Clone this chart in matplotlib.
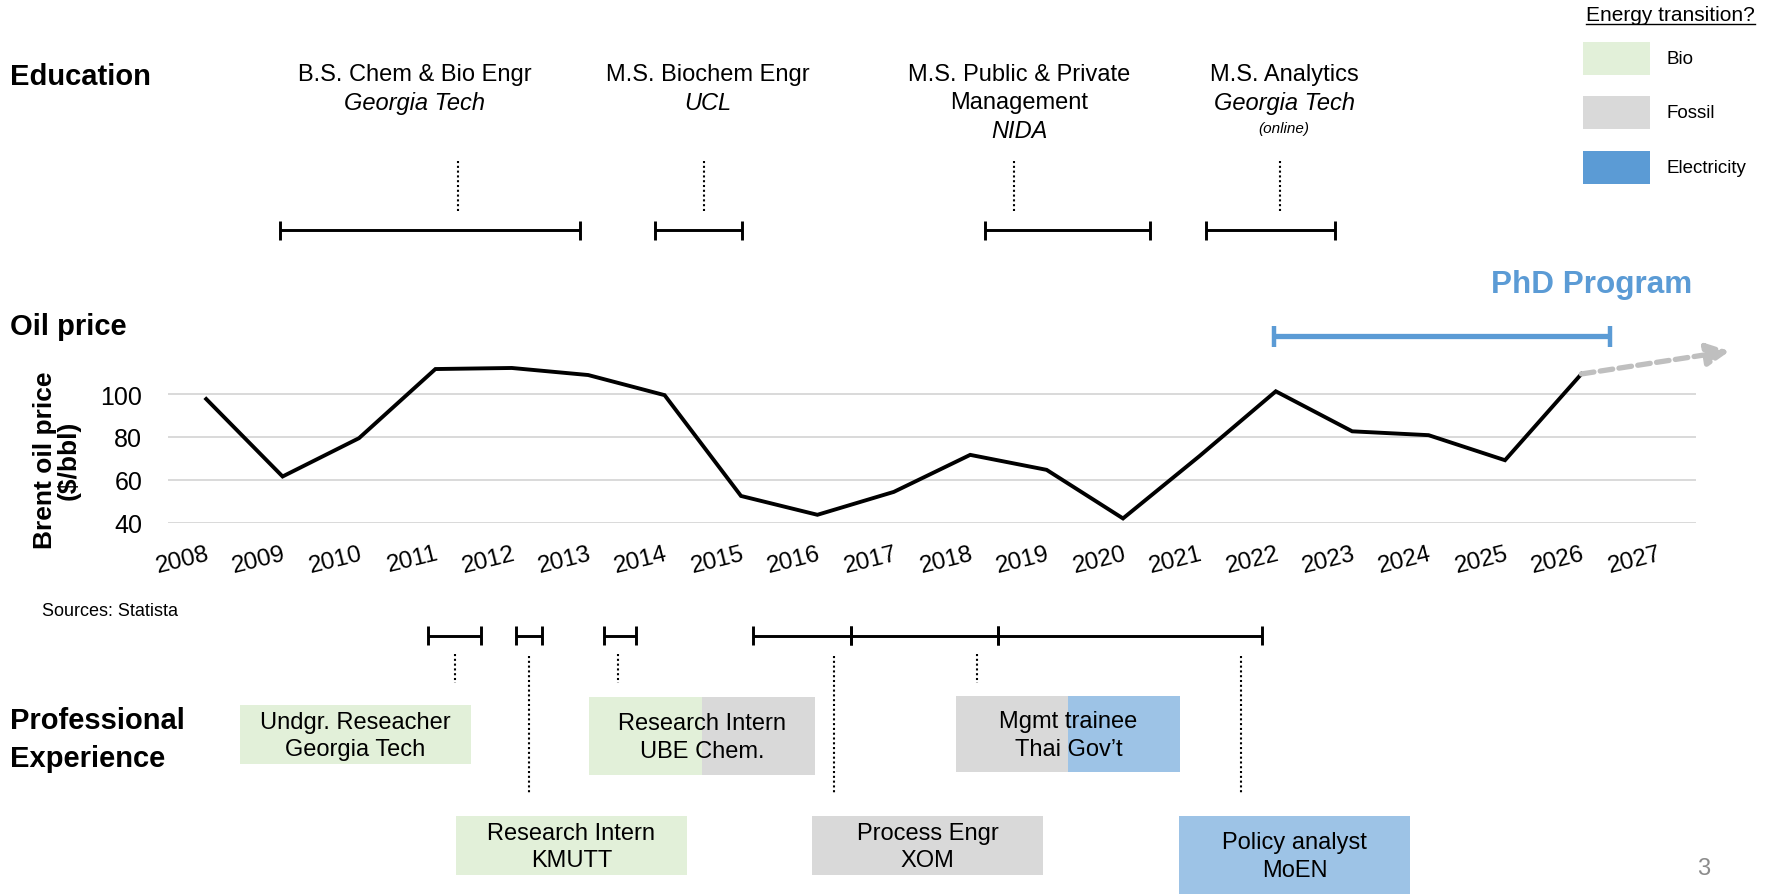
import matplotlib
matplotlib.use("Agg")
import matplotlib.pyplot as plt
from matplotlib.patches import Rectangle
from matplotlib.lines import Line2D
from matplotlib.transforms import blended_transform_factory

plt.rcParams['font.family'] = ['Liberation Sans', 'DejaVu Sans']

# Brent oil price, yearly average ($/bbl)
years = [2008, 2009, 2010, 2011, 2012, 2013, 2014, 2015, 2016, 2017,
         2018, 2019, 2020, 2021, 2022, 2023, 2024, 2025, 2026]
oil_price = [97.7, 61.5, 79.4, 111.7, 112.2, 108.9, 99.5, 52.4, 43.6, 54.3,
             71.6, 64.6, 41.9, 71.0, 101.3, 82.6, 80.8, 69.1, 109.4]
axis_years = list(range(2008, 2028))
price_ticks = [40, 60, 80, 100]
trend_end = (2027.94, 120.1)

# Education (x positions in years)
edu_degree = ["B.S. Chem & Bio Engr", "M.S. Biochem Engr",
              "M.S. Public & Private\nManagement", "M.S. Analytics"]
edu_school = ["Georgia Tech", "UCL", "NIDA", "Georgia Tech"]
edu_note = ["", "", "", "(online)"]
edu_start = [2008.96, 2013.87, 2018.19, 2021.08]
edu_end = [2012.89, 2015.01, 2020.35, 2022.77]
edu_mark = [2011.30, 2014.52, 2018.57, 2022.06]
edu_label_x = [2010.73, 2014.57, 2018.64, 2022.11]

phd_start = 2021.98
phd_end = 2026.37

# Professional experience
job_title = ["Undgr. Reseacher", "Research Intern", "Research Intern",
             "Process Engr", "Mgmt trainee", "Policy analyst"]
job_org = ["Georgia Tech", "KMUTT", "UBE Chem.", "XOM", "Thai Gov\u2019t", "MoEN"]
job_start = [2010.90, 2012.05, 2013.21, 2015.16, 2016.44, 2018.36]
job_end = [2011.60, 2012.40, 2013.63, 2016.44, 2018.36, 2021.82]
job_mark = [2011.26, 2012.22, 2013.39, 2016.22, 2018.09, 2021.55]
job_box_left = [2008.44, 2011.27, 2013.01, 2015.93, 2017.82, 2020.73]
job_box_right = [2011.47, 2014.29, 2015.97, 2018.95, 2020.75, 2023.76]
job_split = [None, None, 2014.49, None, 2019.28, None]
job_energy = [["Bio"], ["Bio"], ["Bio", "Fossil"], ["Fossil"],
              ["Fossil", "Electricity"], ["Electricity"]]

energy_types = ["Bio", "Fossil", "Electricity"]
legend_colors = {"Bio": "#E2F0D9", "Fossil": "#D9D9D9", "Electricity": "#5B9BD5"}
box_colors = {"Bio": "#E2F0D9", "Fossil": "#D9D9D9", "Electricity": "#9DC3E6"}

W, H = 1779, 895


def fy(px):
    # pixel from top -> figure fraction
    return 1 - px / H


def fx(px):
    return px / W


fig = plt.figure(figsize=(W / 100, H / 100), dpi=100)

# Oil price chart
ax = fig.add_axes([fx(168), fy(523.5), fx(1528), (523.5 - 369.4) / H])
ax.plot(years, oil_price, color="black", lw=2.8, solid_joinstyle="miter", clip_on=False, zorder=3)
ax.annotate("", xy=trend_end, xytext=(years[-1], oil_price[-1]),
            arrowprops=dict(arrowstyle="-|>", color="#BFBFBF", lw=3.8, linestyle=(0, (2.4, 1.2)),
                            mutation_scale=34, shrinkA=0, shrinkB=0),
            annotation_clip=False)
ax.set_xlim(2007.5, 2027.5)
ax.set_ylim(40, 112)
ax.set_yticks(price_ticks)
ax.set_xticks(axis_years)
ax.set_xticklabels([str(y) for y in axis_years], rotation=14, ha="right",
                   rotation_mode="anchor", fontsize=17.5)
ax.tick_params(axis="x", length=0, pad=14)
ax.tick_params(axis="y", length=0, pad=18.5, labelsize=18)
ax.yaxis.grid(True, color="#D9D9D9", lw=1.4)
ax.set_axisbelow(True)
for s in ax.spines.values():
    s.set_visible(False)
ax.patch.set_alpha(0)

fig.text(fx(57), fy(460), "Brent oil price\n($/bbl)", rotation=90, ha="center", va="center",
         fontsize=19, fontweight="bold", multialignment="center", linespacing=1.0)
fig.text(fx(42), fy(612), "Sources: Statista", ha="left", va="center", fontsize=13)

trans = blended_transform_factory(ax.transData, fig.transFigure)


def span(x0, x1, y, cap, lw, color="black", cap_lw=None):
    ax.plot([x0, x1], [fy(y), fy(y)], color=color, lw=lw, transform=trans,
            clip_on=False, solid_capstyle="butt")
    for x in (x0, x1):
        ax.plot([x, x], [fy(y - cap), fy(y + cap)], color=color, lw=cap_lw or lw,
                transform=trans, clip_on=False, solid_capstyle="butt")


def dotted(x, y0, y1):
    ax.plot([x, x], [fy(y0), fy(y1)], color="black", lw=1.5, linestyle=(0, (1, 1.3)),
            transform=trans, clip_on=False)


# Section headers
head = dict(fontsize=21, fontweight="bold", ha="left", va="center")
fig.text(fx(10), fy(77), "Education", **head)
fig.text(fx(10), fy(327), "Oil price", **head)
fig.text(fx(10), fy(740), "Professional\nExperience", linespacing=1.42, **head)

# Education timeline
for i in range(len(edu_degree)):
    span(edu_start[i], edu_end[i], 231, 9.5, 2.1)
    dotted(edu_mark[i], 162, 212)
    lines = edu_degree[i].split("\n")
    y = 75
    for ln in lines:
        fig.text(edu_label_x[i], fy(y), ln, transform=trans, ha="center", va="center", fontsize=17)
        y += 28.5
    fig.text(edu_label_x[i], fy(y), edu_school[i], transform=trans, ha="center", va="center",
             fontsize=17, style="italic")
    if edu_note[i]:
        fig.text(edu_label_x[i], fy(y + 25), edu_note[i], transform=trans, ha="center",
                 va="center", fontsize=11, style="italic")

# PhD program
span(phd_start, phd_end, 337, 10.5, 3.8, color="#5B9BD5", cap_lw=3.2)
fig.text(fx(1692), fy(285), "PhD Program", ha="right", va="center", fontsize=22.7,
         fontweight="bold", color="#5B9BD5")

# Experience timeline
upper_rows = {0: (706, 765), 2: (698, 776), 4: (697, 773)}
lower_rows = {1: (817, 876), 3: (817, 876), 5: (817, 895)}
for i in range(len(job_title)):
    span(job_start[i], job_end[i], 636.5, 9.5, 2.1)
    if i in upper_rows:
        top, bot = upper_rows[i]
        dotted(job_mark[i], 655, 684)
    else:
        top, bot = lower_rows[i]
        dotted(job_mark[i], 657, 794)
    edges = [job_box_left[i]]
    if job_split[i] is not None:
        edges.append(job_split[i])
    edges.append(job_box_right[i])
    for k, kind in enumerate(job_energy[i]):
        ax.add_patch(Rectangle((edges[k], fy(bot)), edges[k + 1] - edges[k], (bot - top) / H,
                               transform=trans, facecolor=box_colors[kind], edgecolor="none",
                               clip_on=False, zorder=1))
    cx = (job_box_left[i] + job_box_right[i]) / 2
    fig.text(cx, fy((top + bot) / 2 + 1), job_title[i] + "\n" + job_org[i], transform=trans,
             ha="center", va="center", fontsize=17, linespacing=1.3)

# Legend
t = fig.text(fx(1586), fy(15.5), "Energy transition?", ha="left", va="center", fontsize=15)
fig.canvas.draw()
bb = t.get_window_extent()
fig.add_artist(Line2D([bb.x0 / W, bb.x1 / W], [fy(25), fy(25)], color="black", lw=1.0))
legend_rows = [(42.7, 76), (97, 129.7), (152, 184.7)]
for kind, (top, bot) in zip(energy_types, legend_rows):
    fig.add_artist(Rectangle((fx(1583), fy(bot)), fx(67), (bot - top) / H,
                             transform=fig.transFigure, facecolor=legend_colors[kind],
                             edgecolor="none"))
    fig.text(fx(1667), fy((top + bot) / 2), kind, ha="left", va="center", fontsize=13.5)

# Page number
fig.text(fx(1704), fy(869), "3", ha="center", va="center", fontsize=17, color="#8C8C8C")

fig.savefig("out.png", dpi=100)
